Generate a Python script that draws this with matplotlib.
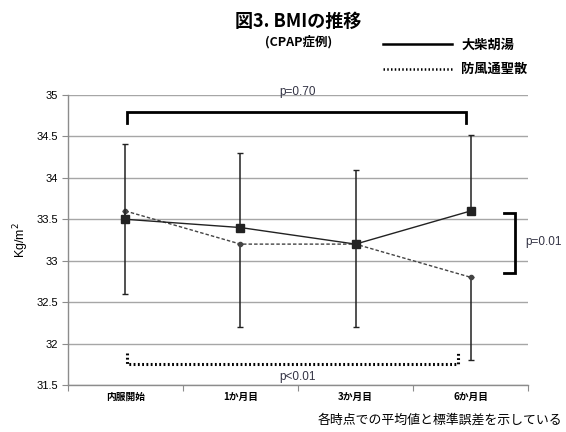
import matplotlib
matplotlib.use("Agg")
import matplotlib.pyplot as plt
from matplotlib.lines import Line2D

plt.rcParams['font.family'] = ['Liberation Sans', 'Noto Sans CJK JP', 'DejaVu Sans']

# Time points and mean BMI with SE
timepoints = ["内服開始", "1か月目", "3か月目", "6か月目"]
daisaikoto_mean = [33.5, 33.4, 33.2, 33.6]
daisaikoto_se = [0.91, 0.9, 0.9, 0.92]
bofutsushosan_mean = [33.6, 33.2, 33.2, 32.8]
bofutsushosan_se = [1.0, 1.0, 1.0, 1.0]
series_labels = ["大柴胡湯", "防風通聖散"]
p_labels = ["p=0.70", "p<0.01", "p=0.01"]

fig = plt.figure(figsize=(5.66, 4.32), dpi=100)
ax = fig.add_axes([0.120, 0.109, 0.813, 0.671])

x = list(range(len(timepoints)))
ink = "#222222"

# 大柴胡湯: solid line, upper error bars
ax.errorbar(x, daisaikoto_mean, yerr=[[0] * 4, daisaikoto_se], color=ink,
            linestyle="-", linewidth=1.0, marker="s", markersize=6,
            ecolor=ink, elinewidth=1.1, capsize=2.5, capthick=1.0, zorder=4)
# 防風通聖散: dashed line, lower error bars
ax.errorbar(x, bofutsushosan_mean, yerr=[bofutsushosan_se, [0] * 4], color="#444444",
            linestyle=(0, (2.5, 1.5)), linewidth=1.0, marker="o", markersize=3,
            ecolor=ink, elinewidth=1.1, capsize=2.5, capthick=1.0, zorder=3)

ax.set_xlim(-0.5, 3.5)
ax.set_ylim(31.5, 35)
ax.set_yticks([31.5, 32, 32.5, 33, 33.5, 34, 34.5, 35])
ax.set_yticklabels(["31.5", "32", "32.5", "33", "33.5", "34", "34.5", "35"], fontsize=8)
ax.yaxis.grid(True, color="#a6a6a6", linewidth=1.0)
ax.set_axisbelow(True)

ax.set_xticks([-0.5, 0.5, 1.5, 2.5, 3.5])
ax.set_xticklabels([])
ax.set_xticks(x, minor=True)
ax.set_xticklabels(timepoints, minor=True, fontsize=7, fontweight="bold",
                   family=["Noto Sans CJK JP"])
ax.tick_params(axis="x", which="minor", length=0, pad=5)
ax.tick_params(axis="x", which="major", length=4, color="#8c8c8c", direction="out")
ax.tick_params(axis="y", length=4, color="#8c8c8c", direction="out", pad=3)

for side in ["top", "right"]:
    ax.spines[side].set_visible(False)
for side in ["left", "bottom"]:
    ax.spines[side].set_color("#8c8c8c")
    ax.spines[side].set_linewidth(1.0)

ax.set_ylabel("Kg/m$^2$", fontsize=9, labelpad=4)

# Significance bracket across time points (top)
ax.plot([0.01, 0.01, 2.96, 2.96], [34.66, 34.8, 34.8, 34.66], color="black",
        linewidth=2.0, clip_on=False, solid_joinstyle="miter")
ax.text(1.5, 35.04, p_labels[0], ha="center", va="center", fontsize=8.5,
        color="#333344", clip_on=False)

# Dotted bracket (bottom)
ax.plot([0.01, 0.01, 2.89, 2.89], [31.88, 31.75, 31.75, 31.88], color="black",
        linewidth=2.2, linestyle=(0, (0.6, 0.8)), clip_on=False)
ax.text(1.5, 31.6, p_labels[1], ha="center", va="center", fontsize=8.5,
        color="#333344", clip_on=False)

# Bracket at 6 months (right)
ax.plot([3.29, 3.39, 3.39, 3.29], [33.58, 33.58, 32.85, 32.85], color="black",
        linewidth=2.0, clip_on=False, solid_joinstyle="miter")
ax.text(3.48, 33.22, p_labels[2], ha="left", va="center", fontsize=8.5,
        color="#333344", clip_on=False)

# Titles
fig.text(0.527, 0.951, "図3. BMIの推移", ha="center", va="center", fontsize=13,
         fontweight="bold", family=["Noto Sans CJK JP"])
fig.text(0.527, 0.903, "(CPAP症例)", ha="center", va="center", fontsize=9,
         fontweight="bold", family=["Noto Sans CJK JP"])

# Legend drawn above the plot
fig.add_artist(Line2D([0.677, 0.798], [0.897, 0.897], color="black", linewidth=1.8))
fig.text(0.815, 0.897, series_labels[0], ha="left", va="center", fontsize=9.5,
         fontweight="bold", family=["Noto Sans CJK JP"])
fig.add_artist(Line2D([0.677, 0.798], [0.840, 0.840], color="black", linewidth=1.8,
                      linestyle=(0, (0.6, 0.9))))
fig.text(0.815, 0.840, series_labels[1], ha="left", va="center", fontsize=9.5,
         fontweight="bold", family=["Noto Sans CJK JP"])

# Footnote
fig.text(0.993, 0.028, "各時点での平均値と標準誤差を示している", ha="right", va="center",
         fontsize=9.3, family=["Noto Sans CJK JP"])

fig.savefig("out.png", dpi=100)
